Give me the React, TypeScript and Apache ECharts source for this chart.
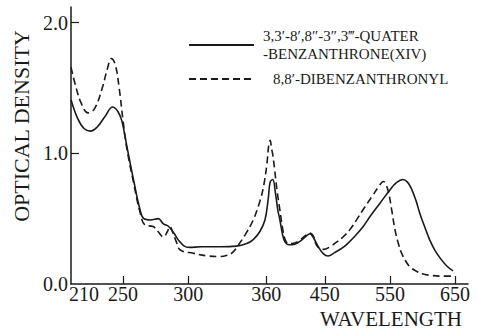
import React, { useEffect, useRef } from 'react';
import * as echarts from 'echarts';

// Solid curve: 3,3'-8',8''-3'',3'''-quaterbenzanthrone (XIV)
const quaterWavelength = [210, 215, 220, 225, 230, 236, 242, 246, 249, 253, 258, 263, 266, 271, 277, 281, 285, 289, 293, 297, 301, 310, 325, 337, 345, 350, 355, 359, 363, 366, 370, 374, 378, 381, 385, 389, 395, 400, 410, 420, 427, 433, 440, 448, 455, 465, 475, 483, 495, 509, 520, 535, 550, 560, 570, 577, 583, 590, 596, 604, 611, 619, 627, 637, 647];
const quaterDensity = [1.41, 1.27, 1.19, 1.17, 1.2, 1.28, 1.355, 1.32, 1.25, 1.05, 0.8, 0.57, 0.5, 0.49, 0.5, 0.46, 0.44, 0.39, 0.33, 0.29, 0.28, 0.285, 0.285, 0.29, 0.31, 0.34, 0.4, 0.49, 0.65, 0.78, 0.8, 0.7, 0.56, 0.49, 0.38, 0.32, 0.3, 0.3, 0.32, 0.36, 0.385, 0.35, 0.285, 0.23, 0.214, 0.24, 0.27, 0.3, 0.36, 0.44, 0.52, 0.62, 0.72, 0.775, 0.8, 0.78, 0.73, 0.64, 0.54, 0.43, 0.34, 0.26, 0.2, 0.14, 0.1];

// Dashed curve: 8,8'-dibenzanthronyl
const dibenzWavelength = [210, 214, 218, 223, 228, 234, 238, 241, 244, 247, 250, 253, 258, 263, 267, 273, 277, 281, 284, 286, 288, 291, 294, 304, 315, 324, 330, 334, 338, 344, 350, 355, 358, 361, 364, 366, 368, 370, 373, 377, 381, 385, 389, 394, 400, 410, 420, 427, 432, 437, 443, 448, 458, 468, 478, 489, 500, 509, 517, 524, 532, 540, 544, 548, 553, 558, 563, 568, 575, 581, 590, 601, 615, 630, 647];
const dibenzDensity = [1.66, 1.5, 1.38, 1.31, 1.34, 1.5, 1.65, 1.725, 1.68, 1.5, 1.25, 1.03, 0.78, 0.55, 0.45, 0.44, 0.4, 0.36, 0.4, 0.44, 0.4, 0.32, 0.26, 0.235, 0.215, 0.21, 0.22, 0.24, 0.29, 0.38, 0.49, 0.63, 0.75, 0.92, 1.07, 1.1, 1.04, 0.99, 0.87, 0.7, 0.566, 0.43, 0.34, 0.31, 0.31, 0.33, 0.37, 0.39, 0.37, 0.3, 0.27, 0.265, 0.285, 0.32, 0.36, 0.42, 0.5, 0.57, 0.63, 0.68, 0.74, 0.785, 0.76, 0.7, 0.56, 0.41, 0.31, 0.235, 0.17, 0.13, 0.1, 0.077, 0.065, 0.06, 0.06];

const xTickWavelengths = [210, 250, 300, 360, 450, 550, 650];
const xTickLabels = ['210', '250', '300', '360', '450', '550', '650'];
const yTickValues = [0, 1, 2];
const seriesNames = ['3,3′-8′,8″-3″,3‴-QUATER\n-BENZANTHRONE(XIV)', '8,8′-DIBENZANTHRONYL'];

// The original wavelength axis is compressed by half beyond 360 nm.
const toAxis = (w: number) => (w <= 360 ? w : 360 + (w - 360) / 2);

const INK = '#1a1a1a';
const SERIF = '"Liberation Serif", "DejaVu Serif", serif';

export default function App() {
  const ref = useRef<HTMLDivElement>(null);
  useEffect(() => {
    if (!ref.current) return;
    const chart = echarts.init(ref.current, null, { renderer: 'svg' });
    const tickPos = xTickWavelengths.map(toAxis);
    const labelPos = tickPos.map((u, i) => (i === 0 ? u + 10 : u));
    chart.setOption({
      animation: false,
      backgroundColor: '#fff',
      grid: { left: 71, right: 9, top: 7, bottom: 48, containLabel: false },
      legend: {
        orient: 'vertical',
        left: 183,
        top: 12,
        itemWidth: 65,
        itemHeight: 14,
        itemGap: -3,
        selectedMode: false,
        itemStyle: { opacity: 0 },
        textStyle: { fontFamily: SERIF, fontSize: 15, color: INK, lineHeight: 18 },
        data: [
          { name: seriesNames[0], textStyle: { padding: [20, 0, 0, 4] } },
          { name: seriesNames[1], textStyle: { padding: [0, 0, 0, 14] } },
        ],
      },
      xAxis: {
        type: 'value',
        min: 210,
        max: 515,
        name: 'WAVELENGTH',
        nameLocation: 'end',
        nameGap: -6,
        nameTextStyle: {
          fontFamily: SERIF,
          fontSize: 21,
          color: INK,
          align: 'right',
          verticalAlign: 'top',
          padding: [24, 0, 0, 0],
        },
        axisLine: { lineStyle: { color: INK, width: 1.5 } },
        axisTick: { inside: true, length: 8, customValues: tickPos.slice(1), lineStyle: { color: INK, width: 1.2 } },
        axisLabel: {
          customValues: labelPos,
          formatter: (v: number) => {
            const i = labelPos.findIndex((p) => Math.abs(p - v) < 1e-6);
            return i >= 0 ? xTickLabels[i] : '';
          },
          fontFamily: SERIF,
          fontSize: 20,
          color: INK,
          margin: 0,
        },
        splitLine: { show: false },
      },
      yAxis: {
        type: 'value',
        min: 0,
        max: 2.12,
        name: 'OPTICAL DENSITY',
        nameLocation: 'middle',
        nameRotate: 90,
        nameGap: 33,
        nameTextStyle: { fontFamily: SERIF, fontSize: 22, color: INK, padding: [0, 0, 0, 39] },
        axisLine: { show: true, lineStyle: { color: INK, width: 1.5 } },
        axisTick: { show: true, inside: true, length: 8, customValues: [1, 2], lineStyle: { color: INK, width: 1.2 } },
        axisLabel: {
          customValues: yTickValues,
          formatter: (v: number) => v.toFixed(1),
          fontFamily: SERIF,
          fontSize: 20,
          color: INK,
          margin: 3,
        },
        splitLine: { show: false },
      },
      series: [
        {
          name: seriesNames[0],
          type: 'line',
          symbol: 'none',
          smooth: 0.4,
          lineStyle: { color: INK, width: 1.6, type: 'solid' },
          itemStyle: { color: INK },
          data: quaterWavelength.map((w, i) => [toAxis(w), quaterDensity[i]]),
        },
        {
          name: seriesNames[1],
          type: 'line',
          symbol: 'none',
          smooth: 0.4,
          lineStyle: { color: INK, width: 1.6, type: [7, 4] },
          itemStyle: { color: INK },
          data: dibenzWavelength.map((w, i) => [toAxis(w), dibenzDensity[i]]),
        },
      ],
    });
    return () => chart.dispose();
  }, []);
  return <div ref={ref} style={{ position: 'fixed', left: 0, top: 0, width: 477, height: 332 }} />;
}
